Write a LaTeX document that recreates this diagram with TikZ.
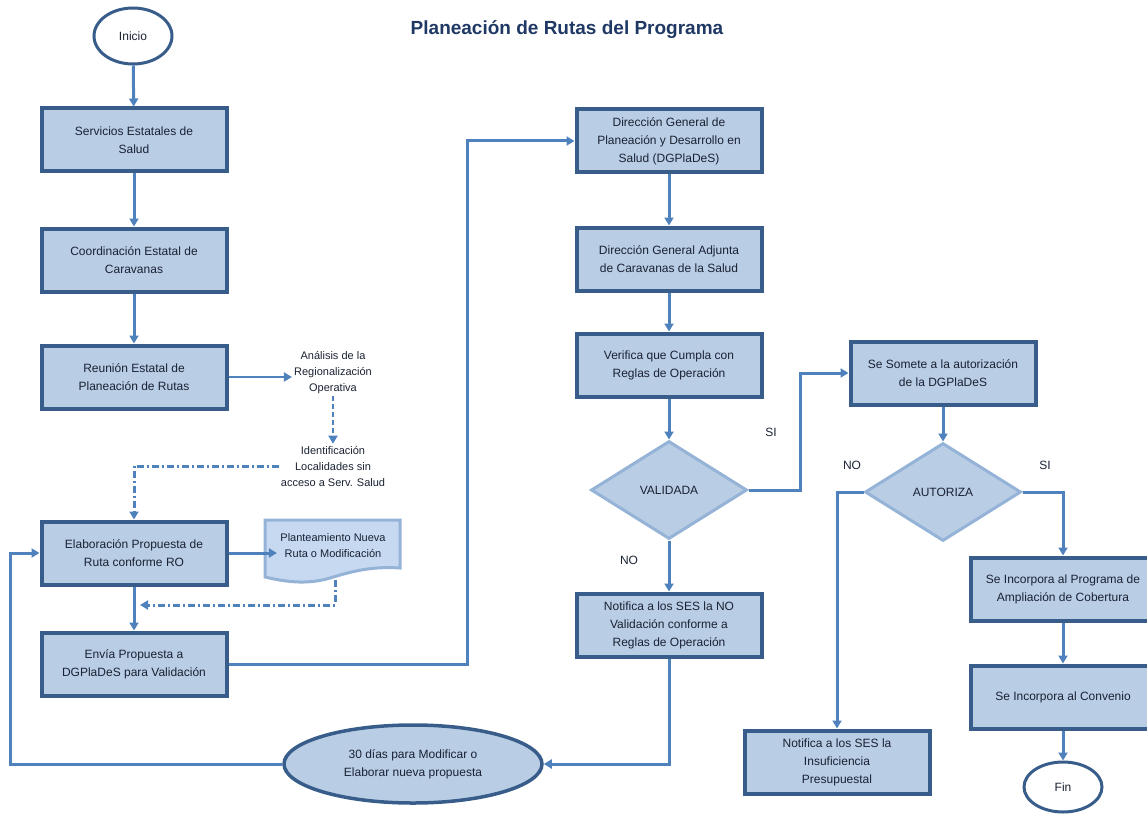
\documentclass[tikz,border=0pt]{standalone}
\usepackage{fontspec}
\setmainfont{Liberation Sans}
\usetikzlibrary{shapes.geometric,arrows.meta}
\definecolor{cajafondo}{HTML}{B9CDE5}
\definecolor{cajaborde}{HTML}{385D8A}
\definecolor{flecha}{HTML}{4F81BD}
\definecolor{rombo}{HTML}{95B3D7}
\definecolor{titulo}{HTML}{1F3864}
\definecolor{docfondo}{HTML}{C6D9F1}
\definecolor{texto}{HTML}{1A2233}
\begin{document}
\begin{tikzpicture}[x=1pt, y=-1pt,
    every node/.style={font=\fontsize{12}{18}\selectfont, align=center, text=texto},
    caja/.style={draw=cajaborde, line width=4pt, fill=cajafondo, minimum width=185pt, minimum height=63pt, inner sep=2pt},
    decision/.style={diamond, draw=rombo, line width=3pt, fill=cajafondo, aspect=1.58, minimum width=156pt, minimum height=98pt, inner sep=0pt},
    terminal/.style={ellipse, draw=cajaborde, line width=3pt, fill=white, minimum width=78pt, minimum height=56pt},
    nota/.style={font=\fontsize{11}{16}\selectfont, inner sep=2pt},
    etiqueta/.style={font=\fontsize{12}{14}\selectfont},
    flujo/.style={draw=flecha, line width=3pt, -{Triangle[length=8pt,width=9pt]}},
    punteada/.style={flujo, dash pattern=on 7pt off 3pt on 2pt off 3pt}
]
\useasboundingbox (0,0) rectangle (1147,813);

\node[font=\bfseries\fontsize{19}{22}\selectfont, text=titulo] (tit) at (567,30) {Planeación de Rutas del Programa};

\node[terminal] (ini) at (133,36) {Inicio};
\node[caja] (ses) at (134,140) {Servicios Estatales de\\Salud};
\node[caja] (cec) at (134,260) {Coordinación Estatal de\\Caravanas};
\node[caja] (reu) at (134,377) {Reunión Estatal de\\Planeación de Rutas};
\node[nota] (ana) at (333,373) {Análisis de la\\Regionalización\\Operativa};
\node[nota] (ide) at (333,466) {Identificación\\Localidades sin\\acceso a Serv. Salud};
\node[caja] (ela) at (134,553) {Elaboración Propuesta de\\Ruta conforme RO};
\draw[draw=rombo, line width=3pt, fill=docfondo] (265,520) -- (400,520) -- (400,568)
    .. controls (370,566) and (350,572) .. (330,578)
    .. controls (310,584) and (290,583) .. (265,577) -- cycle;
\node[font=\fontsize{11}{16}\selectfont] (pla) at (333,546) {Planteamiento Nueva\\Ruta o Modificación};
\node[caja] (env) at (134,664) {Envía Propuesta a\\DGPlaDeS para Validación};

\node[caja] (dg) at (669,141) {Dirección General de\\Planeación y Desarrollo en\\Salud (DGPlaDeS)};
\node[caja] (dga) at (669,259) {Dirección General Adjunta\\de Caravanas de la Salud};
\node[caja] (ver) at (669,365) {Verifica que Cumpla con\\Reglas de Operación};
\node[decision] (val) at (669,490) {VALIDADA};
\node[caja] (nov) at (669,625) {Notifica a los SES la NO\\Validación conforme a\\Reglas de Operación};
\node[terminal, fill=cajafondo, line width=3.5pt, minimum width=258pt, minimum height=78pt] (dias) at (413,764) {30 días para Modificar o\\Elaborar nueva propuesta};

\node[caja] (som) at (943,373) {Se Somete a la autorización\\de la DGPlaDeS};
\node[decision] (aut) at (943,492) {AUTORIZA};
\node[caja] (ins) at (837,762) {Notifica a los SES la\\Insuficiencia\\Presupuestal};
\node[caja] (pro) at (1063,589) {Se Incorpora al Programa de\\Ampliación de Cobertura};
\node[caja] (con) at (1063,697) {Se Incorpora al Convenio};
\node[terminal, minimum height=50pt] (fin) at (1063,787) {Fin};

\node[etiqueta] (si1) at (771,432) {SI};
\node[etiqueta] (no1) at (629,560) {NO};
\node[etiqueta] (no2) at (852,465) {NO};
\node[etiqueta] (si2) at (1045,465) {SI};

\coordinate (plab) at (335,580);
\coordinate (ret) at (140,605);
\coordinate (sube) at (467,141);
\coordinate (lft) at (10,764);

\draw[flujo] (ini) -- (ses);
\draw[flujo] (ses) -- (cec);
\draw[flujo] (cec) -- (reu);
\draw[flujo, line width=2.5pt] (reu.east) -- (reu.east -| ana.west);
\draw[flujo, line width=2.5pt, dash pattern=on 5pt off 3pt] (ana.south) -- (ide.north);
\draw[punteada] (ide.west) -| (ela.north);
\draw[flujo] (ela.east) -- (ela.east -| pla.west);
\draw[punteada] (plab) |- (ret);
\draw[flujo] (ela) -- (env);
\draw[flujo] (env.east) -| (sube) -- (dg.west);
\draw[flujo] (dg) -- (dga);
\draw[flujo] (dga) -- (ver);
\draw[flujo] (ver) -- (val);
\draw[flujo] (val.east) -- ++(52,0) |- (som.west);
\draw[flujo] (val) -- (nov);
\draw[flujo] (nov.south) |- (dias.east);
\draw[flujo] (dias.west) -- (lft) |- (ela.west);
\draw[flujo] (som) -- (aut);
\draw[flujo] (aut.west) -| (ins.north);
\draw[flujo] (aut.east) -| (pro.north);
\draw[flujo] (pro) -- (con);
\draw[flujo] (con) -- (fin);
\end{tikzpicture}
\end{document}
